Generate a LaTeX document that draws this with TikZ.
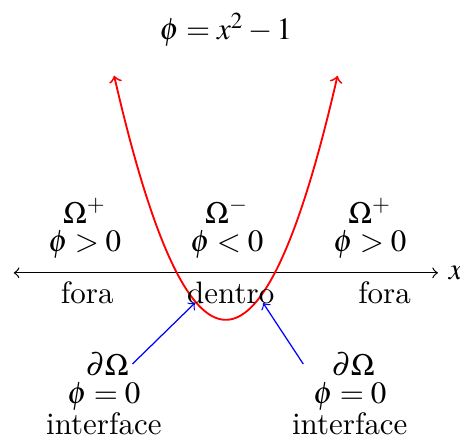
\documentclass[tikz,border=0pt]{standalone}
\usepackage{mathptmx}

\begin{document}
\begin{tikzpicture}[x=0.556cm, y=0.533cm,
	lbl/.style={inner sep=1pt},
	levelset/.style={red, semithick, <->},
	pointer/.style={blue, thin, ->}]
	\useasboundingbox (-4.61,-3.53) rectangle (4.78,5.81);

	% eixo x
	\coordinate (xmin) at (-4.33,0);
	\coordinate (xmax) at (4.33,0);
	\draw[<->] (xmin) -- (xmax);
	\node[anchor=west] (xlab) at (xmax) {$x$};

	% funcao nivel
	\draw[levelset, domain=-2.28:2.28, samples=80, smooth] plot (\x, {\x*\x-1});
	\node (eq) at (0,5.17) {$\phi = x^2 - 1$};

	% regioes
	\node[lbl] (omL) at (-2.88,1.32) {$\Omega^+$};
	\node[lbl] (phiL) at (-2.88,0.6) {$\phi > 0$};
	\node[lbl] (omC) at (0.02,1.32) {$\Omega^-$};
	\node[lbl] (phiC) at (0.02,0.6) {$\phi < 0$};
	\node[lbl] (omR) at (2.94,1.32) {$\Omega^+$};
	\node[lbl] (phiR) at (2.94,0.6) {$\phi > 0$};

	\node[lbl] (foraL) at (-2.83,-0.42) {fora};
	\node[lbl] (dentro) at (0.1,-0.42) {dentro};
	\node[lbl] (foraR) at (3.24,-0.42) {fora};

	% interface
	\node[lbl] (dOmL) at (-2.42,-1.94) {$\partial\Omega$};
	\node[lbl] (zeroL) at (-2.49,-2.64) {$\phi = 0$};
	\node[lbl] (intL) at (-2.49,-3.21) {interface};
	\node[lbl] (dOmR) at (2.6,-1.94) {$\partial\Omega$};
	\node[lbl] (zeroR) at (2.53,-2.64) {$\phi = 0$};
	\node[lbl] (intR) at (2.53,-3.21) {interface};

	\coordinate (hitL) at (-0.63,-0.64);
	\coordinate (hitR) at (0.76,-0.64);
	\draw[pointer] (dOmL.east) -- (hitL);
	\draw[pointer] ([xshift=-8pt]dOmR.west) -- (hitR);
\end{tikzpicture}
\end{document}
